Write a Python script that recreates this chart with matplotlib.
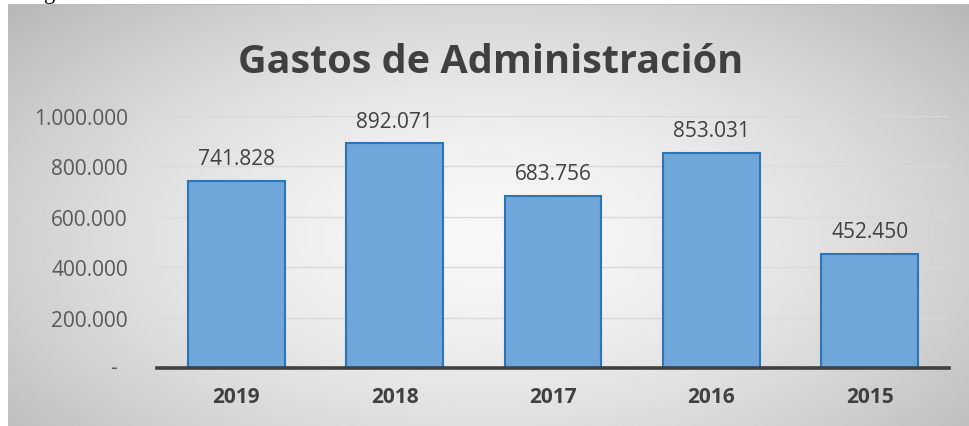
import numpy as np
import matplotlib.pyplot as plt
from matplotlib.ticker import FixedLocator, FixedFormatter

years = ['2019', '2018', '2017', '2016', '2015']
gastos = [741828, 892071, 683756, 853031, 452450]
y_ticks = [0, 200000, 400000, 600000, 800000, 1000000]
y_labels = ['', '200.000', '400.000', '600.000', '800.000', '1.000.000']

W, H = 969, 427
TEXT = '#404040'
BAR = '#6fa7db'
BAR_EDGE = '#2e75b6'
FONT = 'Open Sans'


def fmt_miles(v):
    return f'{v:,.0f}'.replace(',', '.')


fig = plt.figure(figsize=(W / 100, H / 100), dpi=100, facecolor='white')

# chart area with a soft radial shade
bg = fig.add_axes([8 / W, 0, 1 - 8 / W, 1 - 5 / H])
yy, xx = np.mgrid[0:1:300j, 0:1:700j]
r = np.sqrt(((xx - 0.5) / 0.62) ** 2 + ((yy - 0.55) / 0.75) ** 2)
shade = np.clip(0.97 - 0.22 * r ** 1.6, 0, 1)
bg.imshow(shade, cmap='gray', vmin=0, vmax=1, aspect='auto', extent=[0, 1, 0, 1])
bg.axhline(1, color='#bdbdbd', lw=1.5)
bg.set_axis_off()

# descender of a caption line above the chart
fig.text(44 / W, 1 + 1 / H, 'g', family='Liberation Serif', fontsize=16,
         color='black', va='baseline', ha='left')

ax = fig.add_axes([157 / W, 1 - 369 / H, 792 / W, 252 / H])
ax.patch.set_alpha(0)

x = np.arange(len(years))
bars = ax.bar(x, gastos, width=0.61, color=BAR, edgecolor=BAR_EDGE, linewidth=1.5, zorder=3)

for rect, v in zip(bars, gastos):
    ax.annotate(fmt_miles(v), (rect.get_x() + rect.get_width() / 2, v),
                xytext=(0, 12), textcoords='offset points', ha='center', va='baseline',
                fontsize=15, family=FONT, color=TEXT, annotation_clip=False)

ax.set_xlim(-0.5, len(years) - 0.5)
ax.set_ylim(0, 1000000)
ax.set_xticks(x)
ax.set_xticklabels(years, fontsize=15, fontweight='bold', family=FONT, color=TEXT)
ax.yaxis.set_major_locator(FixedLocator(y_ticks))
ax.yaxis.set_major_formatter(FixedFormatter(y_labels))
ax.tick_params(axis='y', length=0, pad=21, labelsize=15, labelcolor='#595959')
ax.tick_params(axis='x', length=0, pad=13)
for lab in ax.get_yticklabels():
    lab.set_family(FONT)

# zero is shown as a dash, as in accounting format
ax.annotate('-', (0, 0), xycoords=('axes fraction', 'data'), xytext=(-29, 0),
            textcoords='offset points', ha='right', va='center', fontsize=15,
            family=FONT, color='#595959', annotation_clip=False)

ax.grid(axis='y', color='#d9d9d9', lw=1, zorder=0)
for s in ['top', 'right', 'left']:
    ax.spines[s].set_visible(False)
ax.spines['bottom'].set_color(TEXT)
ax.spines['bottom'].set_linewidth(2.6)
ax.spines['bottom'].set_zorder(4)

fig.text(491 / W, 1 - 73 / H, 'Gastos de Administración', ha='center', va='baseline',
         fontsize=28.5, fontweight='bold', family=FONT, color=TEXT)

fig.savefig('out.png', dpi=100)
